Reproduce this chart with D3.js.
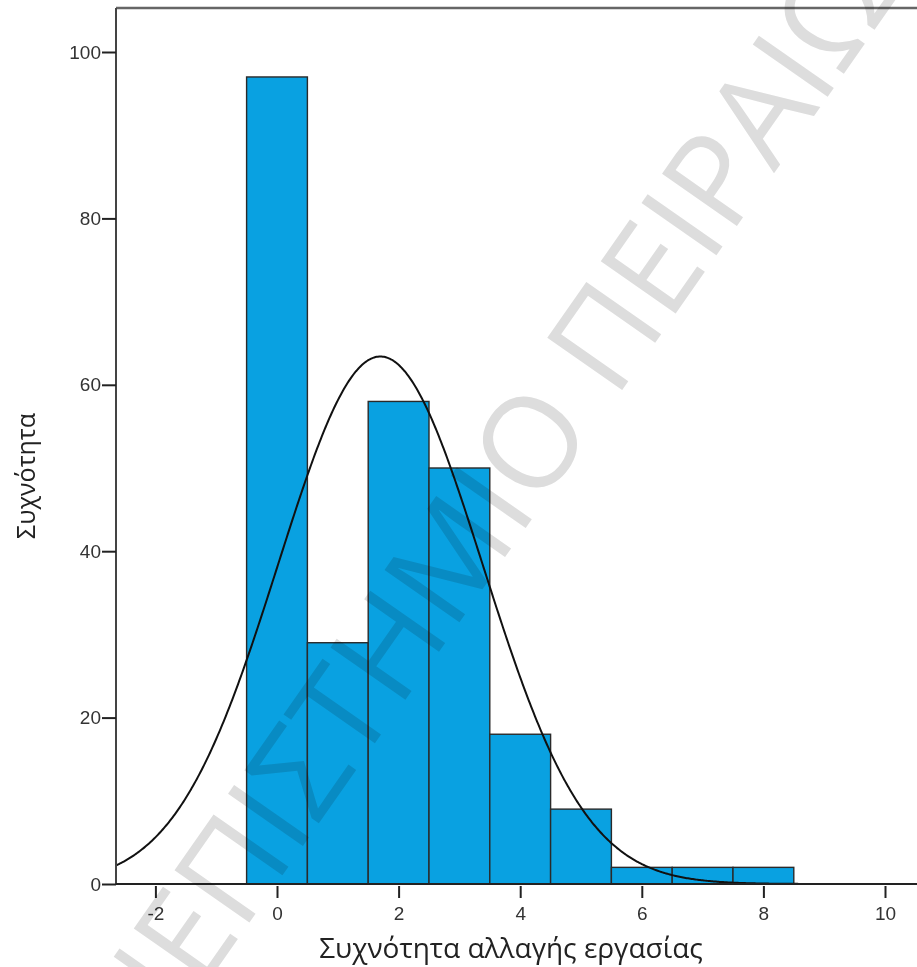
<!DOCTYPE html>
<html>
<head>
<meta charset="utf-8">
<script src="https://cdn.jsdelivr.net/npm/d3@7"></script>
<style>
  html, body { margin: 0; padding: 0; background: #fff; }
  svg { display: block; }
</style>
</head>
<body>
<svg id="chart" width="917" height="967"></svg>
<script>
// ---- data ----
const binCenters = [0, 1, 2, 3, 4, 5, 6, 7, 8];
const frequencies = [97, 29, 58, 50, 18, 9, 2, 2, 2];
const binWidth = 1;
const xTicks = [-2, 0, 2, 4, 6, 8, 10];
const yTicks = [0, 20, 40, 60, 80, 100];
const fitMean = 1.70;   // normal curve parameters (SPSS overlay)
const fitSD = 1.68;
const fitN = 267;
const xTitle = "Συχνότητα αλλαγής εργασίας";
const yTitle = "Συχνότητα";
const watermark = "ΠΑΝΕΠΙΣΤΗΜΙΟ ΠΕΙΡΑΙΩΣ";

(function () {
// ---- layout ----
const W = 917, H = 967;
const pLeft = 116, pTop = 8, pBottom = 884, pRight = 922;
const svg = d3.select("#chart");

const x = d3.scaleLinear().domain([-2.648, 10.6]).range([pLeft, pLeft + (10.6 + 2.648) * 60.8]);
const y = d3.scaleLinear().domain([0, 100]).range([pBottom, 52]);

svg.append("defs").append("clipPath").attr("id", "plotclip")
  .append("rect").attr("x", pLeft).attr("y", pTop).attr("width", pRight - pLeft).attr("height", pBottom - pTop);

const plot = svg.append("g").attr("clip-path", "url(#plotclip)");

// bars
plot.selectAll("rect.bar")
  .data(binCenters.map((c, i) => ({ c, f: frequencies[i] })))
  .join("rect")
  .attr("class", "bar")
  .attr("x", d => x(d.c - binWidth / 2))
  .attr("width", d => x(d.c + binWidth / 2) - x(d.c - binWidth / 2))
  .attr("y", d => y(d.f))
  .attr("height", d => y(0) - y(d.f))
  .attr("fill", "#09a1e1")
  .attr("stroke", "#2a2a2a")
  .attr("stroke-width", 1.4);

// normal curve
const xs = d3.range(-2.7, 10.7, 0.02);
const dens = v => fitN * binWidth / (fitSD * Math.sqrt(2 * Math.PI)) * Math.exp(-0.5 * Math.pow((v - fitMean) / fitSD, 2));
plot.append("path")
  .datum(xs)
  .attr("d", d3.line().x(v => x(v)).y(v => y(dens(v))))
  .attr("fill", "none")
  .attr("stroke", "#111")
  .attr("stroke-width", 2);

// frame (top and left)
svg.append("line").attr("x1", pLeft).attr("x2", W).attr("y1", pTop).attr("y2", pTop)
  .attr("stroke", "#666").attr("stroke-width", 2.5);
svg.append("line").attr("x1", pLeft).attr("x2", pLeft).attr("y1", pTop).attr("y2", pBottom)
  .attr("stroke", "#444").attr("stroke-width", 2);

const tickFont = "'Liberation Sans', Arial, sans-serif";

// x axis
const xAxis = d3.axisBottom(x).tickValues(xTicks).tickSize(9).tickFormat(d => String(d));
const gx = svg.append("g").attr("transform", `translate(0,${pBottom})`).call(xAxis);
gx.select(".domain").remove();
gx.append("line").attr("x1", pLeft).attr("x2", W).attr("y1", 0).attr("y2", 0)
  .attr("stroke", "#222").attr("stroke-width", 2);
gx.selectAll(".tick line").attr("stroke", "#222").attr("stroke-width", 2).attr("y1", 2).attr("y2", 14);
gx.selectAll(".tick text").attr("y", 36).attr("dy", null)
  .attr("font-family", tickFont).attr("font-size", 19).attr("fill", "#333");

// y axis
const yAxis = d3.axisLeft(y).tickValues(yTicks).tickSize(13).tickFormat(d => String(d));
const gy = svg.append("g").attr("transform", `translate(${pLeft},0)`).call(yAxis);
gy.select(".domain").remove();
gy.selectAll(".tick line").attr("stroke", "#222").attr("stroke-width", 2).attr("x1", 0).attr("x2", -14);
gy.selectAll(".tick text").attr("x", -15)
  .attr("font-family", tickFont).attr("font-size", 19).attr("fill", "#333");

// axis titles
svg.append("text").attr("x", 511).attr("y", 958).attr("text-anchor", "middle")
  .attr("font-family", "'Open Sans', 'Noto Sans', sans-serif").attr("font-size", 28).attr("fill", "#222")
  .text(xTitle);
svg.append("text").attr("transform", "translate(35,476) rotate(-90)").attr("text-anchor", "middle")
  .attr("font-family", "'Open Sans', 'Noto Sans', sans-serif").attr("font-size", 25).attr("fill", "#222")
  .text(yTitle);

// watermark
const wm = svg.append("text")
  .attr("font-family", "'Open Sans', 'Noto Sans', sans-serif")
  .attr("font-size", 128)
  .attr("fill", "#dddddd")
  .style("mix-blend-mode", "multiply")
  .attr("x", 0).attr("y", 0)
  .text(watermark);
const node = wm.node();
const oIdx = watermark.indexOf("Ο");
const s = node.getStartPositionOfChar(oIdx).x, e = node.getEndPositionOfChar(oIdx).x;
const oc = (s + e) / 2;
wm.attr("x", -oc).attr("y", 0.357 * 128)
  .attr("transform", "translate(530,442) rotate(-55)");
})();
</script>
</body>
</html>
